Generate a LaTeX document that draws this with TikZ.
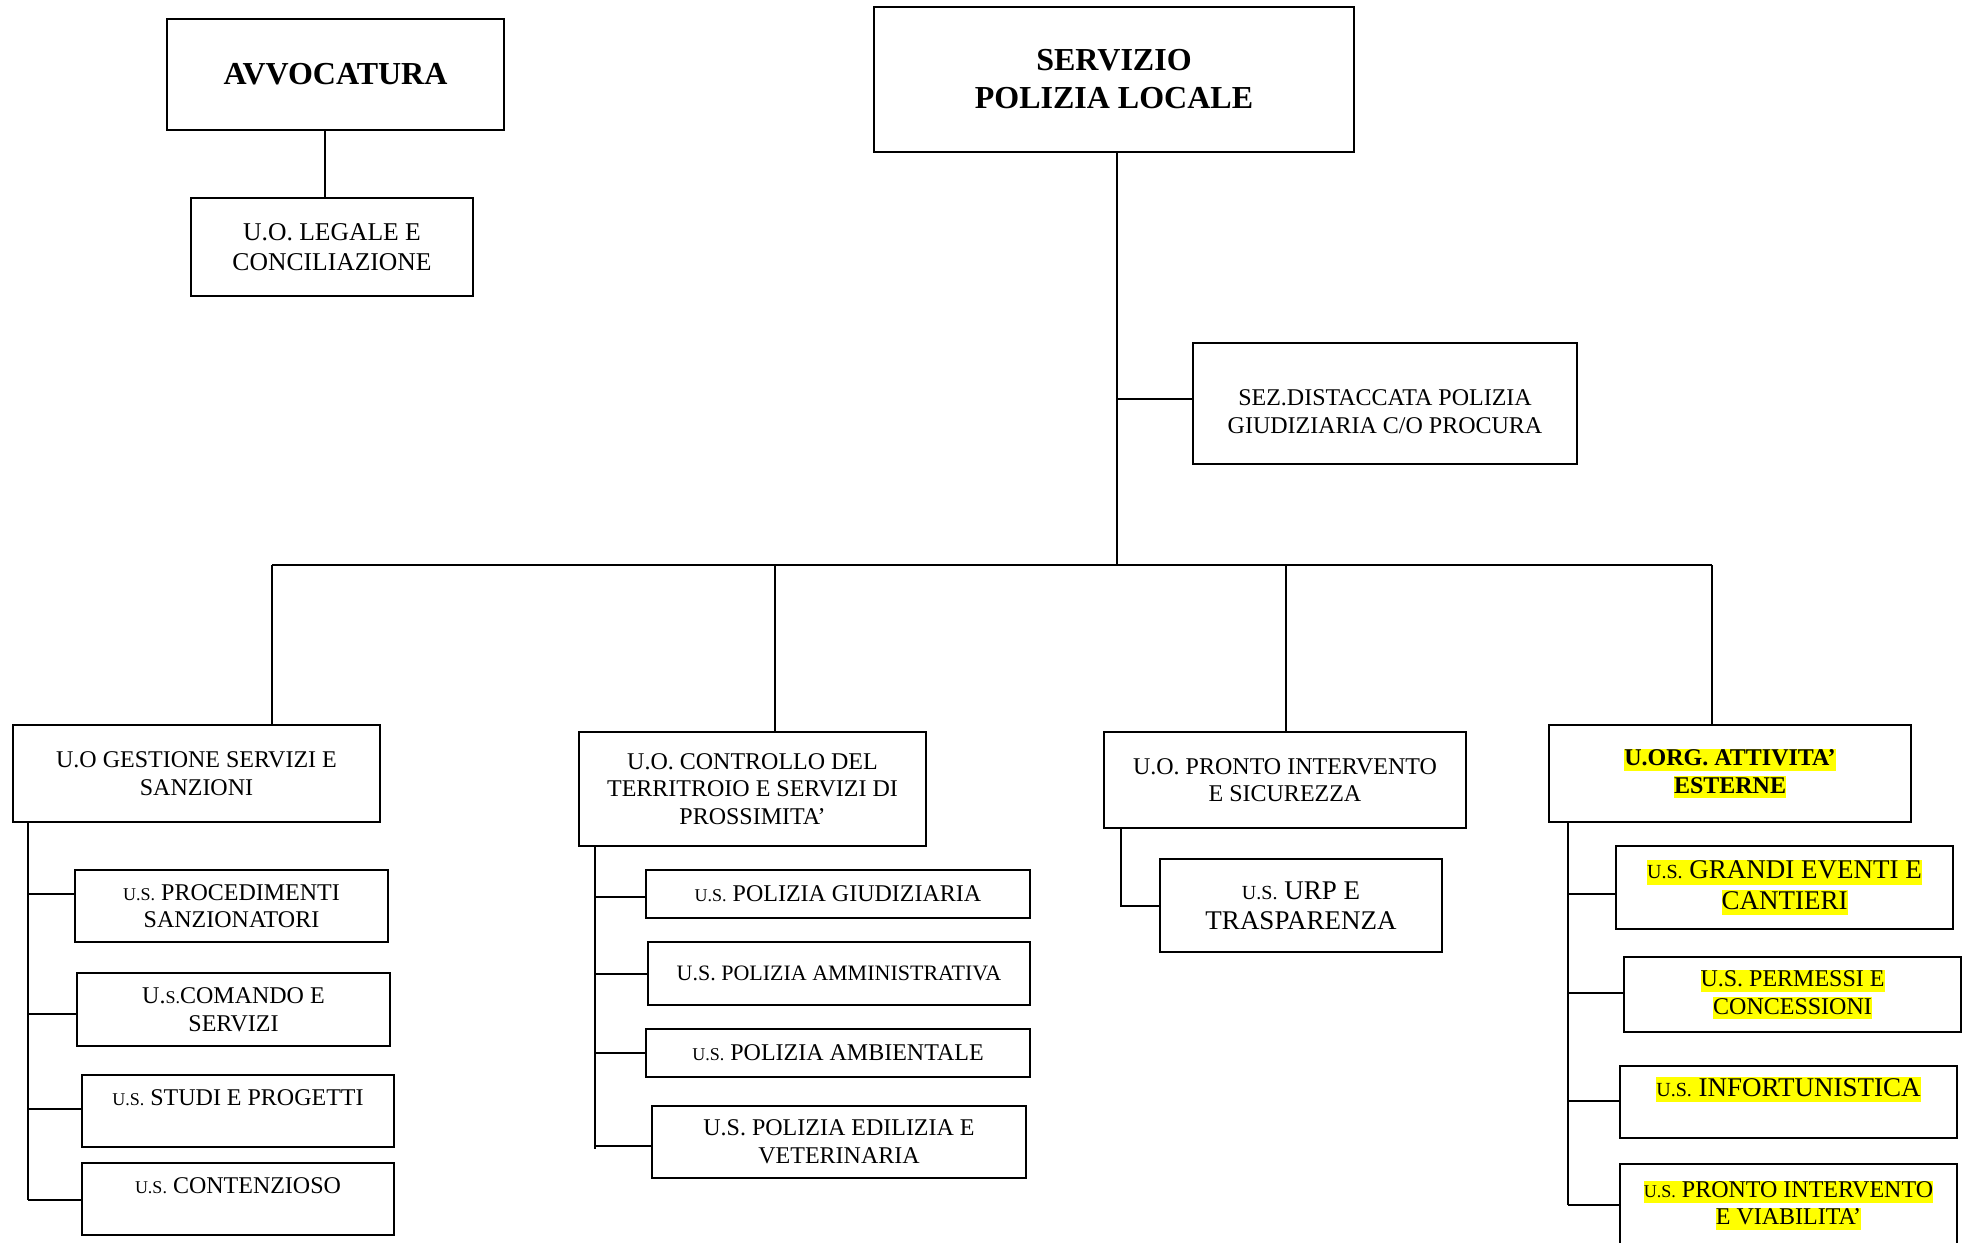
\documentclass[tikz,border=0pt]{standalone}
\usepackage{fontspec}
\usepackage{relsize}
\setmainfont{Liberation Serif}
\definecolor{hlyellow}{HTML}{FFFF00}
\newcommand\sm[1]{\textscale{0.75}{#1}}
\newcommand\hly[1]{{\setlength{\fboxsep}{0pt}\colorbox{hlyellow}{\rule[-0.22em]{0pt}{0.92em}#1}}}
\tikzset{
  ubox/.style={draw, line width=1pt, align=center, inner sep=0pt, font=\fontsize{12}{13.8}\selectfont},
  wh/.style 2 args={minimum width=#1*0.5pt, minimum height=#2*0.5pt},
  ttl/.style={font=\bfseries\fontsize{16}{19}\selectfont},
  bld/.style={font=\bfseries\fontsize{12}{13.8}\selectfont},
  big/.style={font=\fontsize{13.5}{15.2}\selectfont},
  conn/.style={line width=1pt}
}
\begin{document}
\begin{tikzpicture}[x=0.5pt, y=-0.5pt]
\useasboundingbox (0,0) rectangle (1964,1242);
% top level
\node[ubox, ttl, wh={337}{111}] (avv) at (335.5,74.5) {AVVOCATURA};
\node[ubox, wh={282}{98}, font=\fontsize{12.8}{15}\selectfont] (leg) at (332,247) {U.O. LEGALE E\\CONCILIAZIONE};
\node[ubox, ttl, wh={480}{145}] (sv) at (1114,79.5) {SERVIZIO\\POLIZIA LOCALE};
\node[ubox, wh={384}{121}] (sez) at (1385,403.5) {\rule{0pt}{16pt}SEZ.DISTACCATA POLIZIA\\GIUDIZIARIA C/O PROCURA};
% column 1
\node[ubox, wh={367}{97}] (gest) at (196.5,773.5) {U.O GESTIONE SERVIZI E\\SANZIONI};
\node[ubox, wh={313}{72}] (proc) at (231.5,906) {\sm{U.S.} PROCEDIMENTI\\SANZIONATORI};
\node[ubox, wh={313}{73}] (com) at (233.5,1009.5) {U.\sm{S.}COMANDO E\\SERVIZI};
\node[ubox, wh={312}{72}] (stu) at (238,1111) {\sm{U.S.} STUDI E PROGETTI\\~};
\node[ubox, wh={312}{72}] (cont) at (238,1199) {\sm{U.S.} CONTENZIOSO\\~};
% column 2
\node[ubox, wh={347}{114}] (ctrl) at (752.5,789) {U.O. CONTROLLO DEL\\TERRITROIO E SERVIZI DI\\PROSSIMITA’};
\node[ubox, wh={384}{48}] (giud) at (838,894) {\sm{U.S.} POLIZIA GIUDIZIARIA};
\node[ubox, wh={382}{63}, font=\fontsize{11}{12.6}\selectfont] (amm) at (839,973.5) {U.S. POLIZIA AMMINISTRATIVA};
\node[ubox, wh={384}{48}] (amb) at (838,1053) {\sm{U.S.} POLIZIA AMBIENTALE};
\node[ubox, wh={374}{72}] (edi) at (839,1142) {U.S. POLIZIA EDILIZIA E\\VETERINARIA};
% column 3
\node[ubox, wh={362}{96}] (pi) at (1285,780) {U.O. PRONTO INTERVENTO\\E SICUREZZA};
\node[ubox, big, wh={282}{93}] (urp) at (1301,905.5) {\sm{U.S.} URP E\\TRASPARENZA};
% column 4
\node[ubox, bld, wh={362}{97}] (uorg) at (1730,773.5) {\hly{U.ORG. ATTIVITA’}\\\hly{ESTERNE}};
\node[ubox, big, wh={337}{83}] (gra) at (1784.5,887.5) {\hly{\sm{U.S.} GRANDI EVENTI E}\\\hly{CANTIERI}};
\node[ubox, wh={337}{75}] (per) at (1792.5,994.5) {\hly{U.S. PERMESSI E}\\\hly{CONCESSIONI}};
\node[ubox, big, wh={337}{72}] (inf) at (1788.5,1102) {\hly{\sm{U.S.} INFORTUNISTICA}\\~};
\node[ubox, wh={337}{105}] (via) at (1788.5,1216.5) {\hly{\sm{U.S.} PRONTO INTERVENTO}\\\hly{E VIABILITA’}\\~};
% junctions
\coordinate (ac) at (325,0);
\coordinate (J) at (1117,565);
\coordinate (J1) at (272,565);
\coordinate (J2) at (775,565);
\coordinate (J3) at (1286,565);
\coordinate (J4) at (1712,565);
\coordinate (S1) at (28,1200);
\coordinate (S2) at (595,1149);
\coordinate (S3) at (1121,0);
\coordinate (S4) at (1568,1205);
% connectors
\draw[conn] (ac |- avv.south) -- (ac |- leg.north);
\draw[conn] (J |- sv.south) -- (J);
\draw[conn] (J |- 0,399) -- (sez.west |- 0,399);
\draw[conn] (J1) -- (J4);
\draw[conn] (J1) -- (J1 |- gest.north);
\draw[conn] (J2) -- (J2 |- ctrl.north);
\draw[conn] (J3) -- (J3 |- pi.north);
\draw[conn] (J4) -- (J4 |- uorg.north);
% column 1 spine
\draw[conn] (S1 |- gest.south) -- (S1);
\draw[conn] (28,894) -- (proc.west |- 0,894);
\draw[conn] (28,1014) -- (com.west |- 0,1014);
\draw[conn] (28,1109) -- (stu.west |- 0,1109);
\draw[conn] (S1) -- (cont.west |- S1);
% column 2 spine
\draw[conn] (S2 |- ctrl.south) -- (S2);
\draw[conn] (595,897) -- (giud.west |- 0,897);
\draw[conn] (595,974) -- (amm.west |- 0,974);
\draw[conn] (595,1053) -- (amb.west |- 0,1053);
\draw[conn] (595,1146) -- (edi.west |- 0,1146);
% column 3
\draw[conn] (S3 |- pi.south) -- (S3 |- urp.west) -- (urp.west);
% column 4 spine
\draw[conn] (S4 |- uorg.south) -- (S4);
\draw[conn] (1568,894) -- (gra.west |- 0,894);
\draw[conn] (1568,993) -- (per.west |- 0,993);
\draw[conn] (1568,1101) -- (inf.west |- 0,1101);
\draw[conn] (S4) -- (via.west |- S4);
\end{tikzpicture}
\end{document}
